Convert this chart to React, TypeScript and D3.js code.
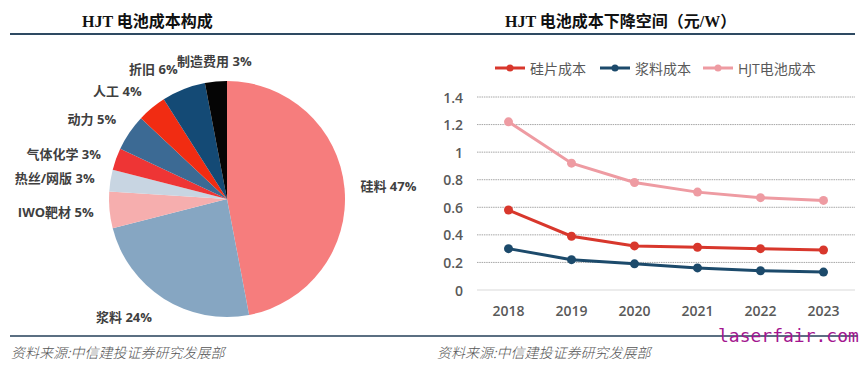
import React from "react";
import * as d3 from "d3";

const pieCategories = ["硅料", "浆料", "IWO靶材", "热丝/网版", "气体化学", "动力", "人工", "折旧", "制造费用"];
const pieValues = [47, 24, 5, 3, 3, 5, 4, 6, 3];
const pieColors = ["#F67D7D", "#86A6C2", "#F6AEAE", "#C8D5E2", "#EE3535", "#3C6A94", "#F12C12", "#144A75", "#050505"];

const years = ["2018", "2019", "2020", "2021", "2022", "2023"];
const seriesNames = ["硅片成本", "浆料成本", "HJT电池成本"];
const waferCost = [0.58, 0.39, 0.32, 0.31, 0.3, 0.29];
const pasteCost = [0.3, 0.22, 0.19, 0.16, 0.14, 0.13];
const cellCost = [1.22, 0.92, 0.78, 0.71, 0.67, 0.65];
const seriesColors = ["#D8372C", "#1C4A6B", "#EE9BA2"];
const yTicks = [0, 0.2, 0.4, 0.6, 0.8, 1, 1.2, 1.4];

const cjk = "'Open Sans', 'Noto Sans CJK SC', sans-serif";

export default function App() {
  const W = 865, H = 368;
  // Pie
  const cx = 227, cy = 199, R = 118;
  const pie = d3.pie<number>().sort(null).value((d) => d)(pieValues);
  const arc = d3.arc<d3.PieArcDatum<number>>().innerRadius(0).outerRadius(R);

  // Line chart
  const x = d3.scaleBand<string>().domain(years).range([477, 855]);
  const y = d3.scaleLinear().domain([0, 1.4]).range([290, 97]);
  const allSeries = [waferCost, pasteCost, cellCost];
  const line = d3.line<number>().x((_, i) => (x(years[i]) as number) + x.bandwidth() / 2).y((d) => y(d));

  const legendX = [495, 600, 703];

  return (
    <svg width={W} height={H} style={{ position: "absolute", left: 0, top: 0, background: "#fff" }}>
      <rect width={W} height={H} fill="#fff" />
      {/* Titles */}
      <text x={82} y={27} fontSize={16} fontWeight="bold" fill="#111">
        <tspan fontFamily="'Liberation Serif', serif">HJT </tspan>
        <tspan fontFamily="'Noto Sans CJK SC', sans-serif">电池成本构成</tspan>
      </text>
      <text x={505} y={27} fontSize={16} fontWeight="bold" fill="#111">
        <tspan fontFamily="'Liberation Serif', serif">HJT </tspan>
        <tspan fontFamily="'Noto Sans CJK SC', sans-serif">电池成本下降空间（元</tspan>
        <tspan fontFamily="'Liberation Serif', serif">/W</tspan>
        <tspan fontFamily="'Noto Sans CJK SC', sans-serif">）</tspan>
      </text>
      <line x1={10} x2={430} y1={34} y2={34} stroke="#2E4A62" strokeWidth={2} />
      <line x1={430} x2={855} y1={34} y2={34} stroke="#2E4A62" strokeWidth={2} />

      {/* Pie */}
      <g transform={`translate(${cx},${cy})`}>
        {pie.map((d, i) => (
          <path key={i} d={arc(d) as string} fill={pieColors[i]} />
        ))}
        {pie.map((d, i) => {
          const a = (d.startAngle + d.endAngle) / 2;
          const s = Math.sin(a), c = Math.cos(a);
          const r = i === 1 ? 140 : 134;
          const lx = r * s;
          const ly = -r * c - (c > 0.4 ? 5 : 0);
          const anchor = Math.abs(s) < 0.2 ? "middle" : s > 0 ? "start" : "end";
          return (
            <text key={"l" + i} x={lx} y={ly} textAnchor={anchor} dominantBaseline="central"
              fontSize={13} fontWeight="bold" fill="#3F3F3F" fontFamily={cjk}>
              {pieCategories[i]} {pieValues[i]}%
            </text>
          );
        })}
      </g>

      {/* Line chart grid */}
      {yTicks.map((t) => (
        <g key={t}>
          {t > 0 && (
            <line x1={477} x2={855} y1={y(t)} y2={y(t)} stroke="#A6A6A6" strokeWidth={1} strokeDasharray="1.5,0.8" />
          )}
          <text x={463} y={y(t)} textAnchor="end" dominantBaseline="central" fontSize={14}
            fontWeight={600} fill="#595959" fontFamily={cjk}>
            {d3.format("~g")(t)}
          </text>
        </g>
      ))}
      <line x1={477} x2={855} y1={y(0)} y2={y(0)} stroke="#D9D9D9" strokeWidth={1} />
      {years.map((yr) => (
        <text key={yr} x={(x(yr) as number) + x.bandwidth() / 2} y={310} textAnchor="middle"
          dominantBaseline="central" fontSize={14} fontWeight={600} fill="#595959" fontFamily={cjk}>
          {yr}
        </text>
      ))}
      {allSeries.map((s, k) => (
        <g key={k}>
          <path d={line(s) as string} fill="none" stroke={seriesColors[k]} strokeWidth={3} />
          {s.map((v, i) => (
            <circle key={i} cx={(x(years[i]) as number) + x.bandwidth() / 2} cy={y(v)} r={4.5} fill={seriesColors[k]} />
          ))}
        </g>
      ))}
      {/* Legend */}
      {seriesNames.map((n, k) => (
        <g key={n}>
          <line x1={legendX[k]} x2={legendX[k] + 30} y1={68} y2={68} stroke={seriesColors[k]} strokeWidth={3} />
          <circle cx={legendX[k] + 15} cy={68} r={3.5} fill={seriesColors[k]} />
          <text x={legendX[k] + 35} y={68} dominantBaseline="central" fontSize={14} fill="#595959" fontFamily={cjk}>
            {n}
          </text>
        </g>
      ))}

      {/* Footer */}
      <line x1={10} x2={858} y1={336} y2={336} stroke="#5B6F82" strokeWidth={2} />
      <text x={11} y={352} dominantBaseline="central" fontSize={14} fill="#555" fontStyle="italic"
        fontFamily="'Noto Sans CJK SC', serif" fontWeight={300}>
        资料来源:中信建投证券研究发展部
      </text>
      <text x={437} y={352} dominantBaseline="central" fontSize={14} fill="#555" fontStyle="italic"
        fontFamily="'Noto Sans CJK SC', serif" fontWeight={300}>
        资料来源:中信建投证券研究发展部
      </text>
      <text x={718} y={335} dominantBaseline="central" fontSize={18} fill="#A3168F"
        fontFamily="'DejaVu Sans Mono', monospace">
        laserfair.com
      </text>
    </svg>
  );
}
